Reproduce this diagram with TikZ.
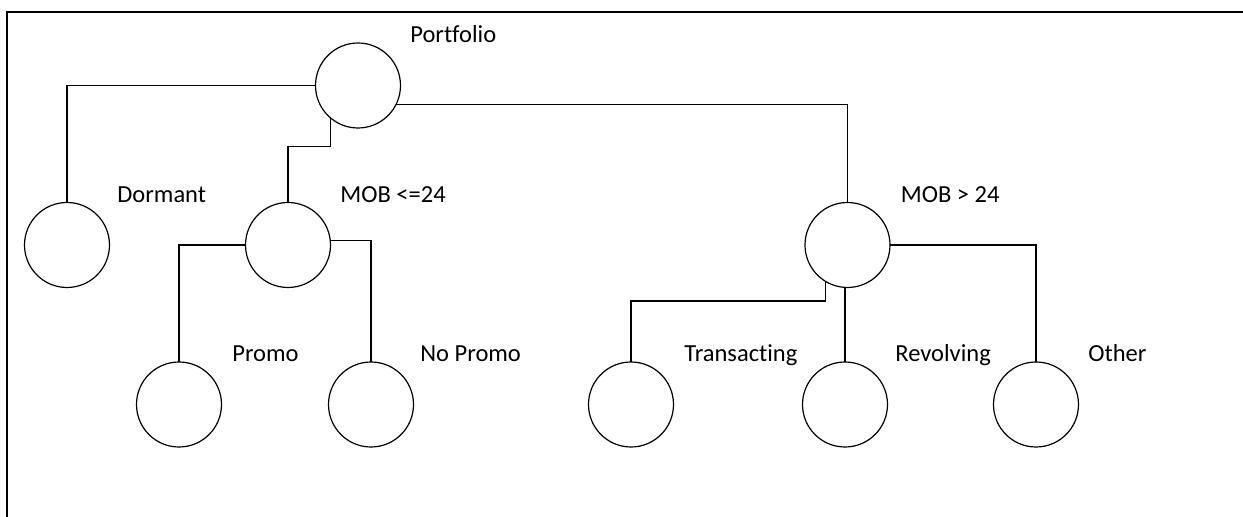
\documentclass[tikz,border=0pt]{standalone}
\usepackage{fontspec}
\setmainfont{Carlito}[Ligatures={NoCommon,NoDiscretionary}]
\usetikzlibrary{positioning}

\begin{document}
\begin{tikzpicture}[x=0.5pt, y=-0.5pt]
    \tikzstyle{seg} = [circle, draw=black, line width=0.6pt, minimum size=42.5pt, inner sep=0pt, outer sep=0pt]
    \tikzstyle{lbl} = [anchor=base west, inner sep=0pt, font=\fontsize{12.25}{14}\selectfont]
    \tikzstyle{link} = [line width=0.6pt]

    \useasboundingbox (0,0) rectangle (1243,517);
    \draw [line width=1.1pt] (7,517) |- (1243,12);

    % root
    \node [seg] (pf) at (358,85.5) {};

    % first split
    \node [seg] (dorm) at (67,245) {};
    \node [seg, right=68pt of dorm] (mobA) {};
    \node [seg, right=237.25pt of mobA] (mobB) {};

    % leaves
    \node [seg] (promo) at (179,404.5) {};
    \node [seg, right=53.5pt of promo] (nopromo) {};
    \node [seg, right=87.5pt of nopromo] (trans) {};
    \node [seg, right=64.5pt of trans] (revol) {};
    \node [seg, right=53pt of revol] (other) {};

    % names sit up and to the right of each circle
    \node [lbl] (pf-lbl) at ([xshift=26pt]pf.north) {Portfolio};
    \node [lbl] (dorm-lbl) at ([xshift=25pt]dorm.north) {Dormant};
    \node [lbl] (mobA-lbl) at ([xshift=26pt]mobA.north) {MOB <=24};
    \node [lbl] (mobB-lbl) at ([xshift=26.5pt]mobB.north) {MOB > 24};
    \node [lbl] (promo-lbl) at ([xshift=26.5pt]promo.north) {Promo};
    \node [lbl] (nopromo-lbl) at ([xshift=24.5pt]nopromo.north) {No Promo};
    \node [lbl] (trans-lbl) at ([xshift=26.5pt]trans.north) {Transacting};
    \node [lbl] (revol-lbl) at ([xshift=25pt]revol.north) {Revolving};
    \node [lbl] (other-lbl) at ([xshift=26pt]other.north) {Other};

    % elbow connectors
    \draw [link] (pf.west) -| (dorm.north);
    \draw [link] (pf.-131) -- ++(0,-14.5pt) -| (mobA.north);
    \draw [link] (pf.-26) -| (mobB.north);

    \draw [link] (mobA.west) -| (promo.north);
    \draw [link] (mobA.6) -| (nopromo.north);

    \draw [link] (mobB.-121) -- ++(0,-9.8pt) -| (trans.north);
    \draw [link] (revol.north |- mobB.south) -- (revol.north);
    \draw [link] (mobB.east) -| (other.north);

\end{tikzpicture}
\end{document}
